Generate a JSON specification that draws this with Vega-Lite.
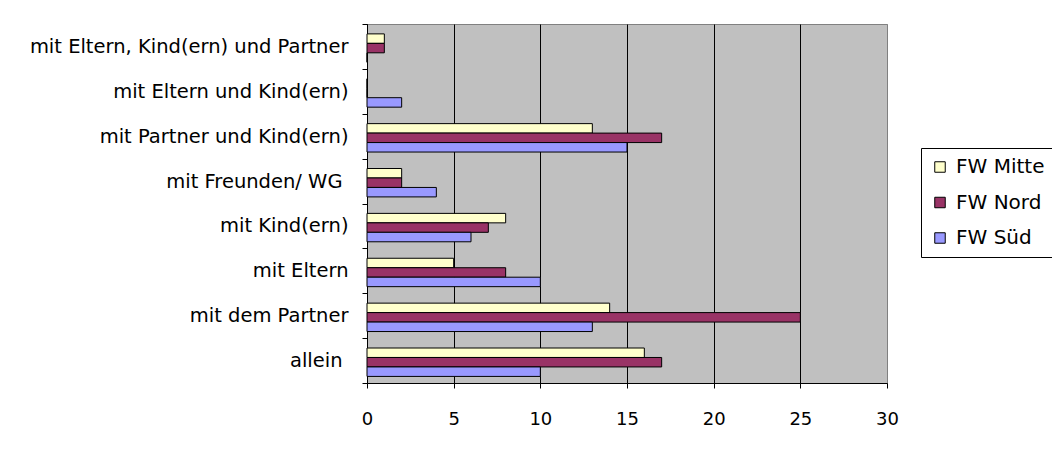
{
  "$schema": "https://vega.github.io/schema/vega-lite/v6.json",
  "width": 520,
  "height": 359,
  "autosize": {"type": "none"},
  "padding": {"left": 367, "top": 24, "right": 165, "bottom": 67},
  "background": "white",
  "config": {
    "font": "DejaVu Sans",
    "view": {"fill": "#C0C0C0", "stroke": "#808080", "strokeWidth": 1}
  },
  "data": {
    "values": [
      {"kategorie": "mit Eltern, Kind(ern) und Partner", "gruppe": "FW Mitte", "wert": 1},
      {"kategorie": "mit Eltern, Kind(ern) und Partner", "gruppe": "FW Nord", "wert": 1},
      {"kategorie": "mit Eltern, Kind(ern) und Partner", "gruppe": "FW Süd", "wert": 0},
      {"kategorie": "mit Eltern und Kind(ern)", "gruppe": "FW Mitte", "wert": 0},
      {"kategorie": "mit Eltern und Kind(ern)", "gruppe": "FW Nord", "wert": 0},
      {"kategorie": "mit Eltern und Kind(ern)", "gruppe": "FW Süd", "wert": 2},
      {"kategorie": "mit Partner und Kind(ern)", "gruppe": "FW Mitte", "wert": 13},
      {"kategorie": "mit Partner und Kind(ern)", "gruppe": "FW Nord", "wert": 17},
      {"kategorie": "mit Partner und Kind(ern)", "gruppe": "FW Süd", "wert": 15},
      {"kategorie": "mit Freunden/ WG", "gruppe": "FW Mitte", "wert": 2},
      {"kategorie": "mit Freunden/ WG", "gruppe": "FW Nord", "wert": 2},
      {"kategorie": "mit Freunden/ WG", "gruppe": "FW Süd", "wert": 4},
      {"kategorie": "mit Kind(ern)", "gruppe": "FW Mitte", "wert": 8},
      {"kategorie": "mit Kind(ern)", "gruppe": "FW Nord", "wert": 7},
      {"kategorie": "mit Kind(ern)", "gruppe": "FW Süd", "wert": 6},
      {"kategorie": "mit Eltern", "gruppe": "FW Mitte", "wert": 5},
      {"kategorie": "mit Eltern", "gruppe": "FW Nord", "wert": 8},
      {"kategorie": "mit Eltern", "gruppe": "FW Süd", "wert": 10},
      {"kategorie": "mit dem Partner", "gruppe": "FW Mitte", "wert": 14},
      {"kategorie": "mit dem Partner", "gruppe": "FW Nord", "wert": 25},
      {"kategorie": "mit dem Partner", "gruppe": "FW Süd", "wert": 13},
      {"kategorie": "allein", "gruppe": "FW Mitte", "wert": 16},
      {"kategorie": "allein", "gruppe": "FW Nord", "wert": 17},
      {"kategorie": "allein", "gruppe": "FW Süd", "wert": 10}
    ]
  },
  "mark": {"type": "bar", "stroke": "black", "strokeWidth": 1, "cornerRadius": 0},
  "encoding": {
    "y": {
      "field": "kategorie",
      "type": "nominal",
      "sort": [
        "mit Eltern, Kind(ern) und Partner",
        "mit Eltern und Kind(ern)",
        "mit Partner und Kind(ern)",
        "mit Freunden/ WG",
        "mit Kind(ern)",
        "mit Eltern",
        "mit dem Partner",
        "allein"
      ],
      "scale": {"paddingInner": 0, "paddingOuter": 0},
      "axis": {
        "title": null,
        "tickBand": "extent",
        "domainColor": "black",
        "tickColor": "black",
        "tickSize": 5,
        "labelFontSize": 19.5,
        "labelColor": "black",
        "labelPadding": {"condition": {"test": "datum.value == 'allein' || datum.value == 'mit Freunden/ WG'", "value": 20}, "value": 14},
        "labelLimit": 400,
        "grid": false
      }
    },
    "yOffset": {
      "field": "gruppe",
      "type": "nominal",
      "sort": ["FW Mitte", "FW Nord", "FW Süd"],
      "scale": {"paddingInner": 0, "paddingOuter": 0.87, "align": 0.6}
    },
    "x": {
      "field": "wert",
      "type": "quantitative",
      "scale": {"domain": [0, 30], "nice": false},
      "axis": {
        "title": null,
        "values": [0, 5, 10, 15, 20, 25, 30],
        "grid": true,
        "gridColor": {"condition": {"test": "datum.value == 30", "value": "#808080"}, "value": "black"},
        "gridOpacity": 1,
        "domainColor": "black",
        "tickColor": "black",
        "tickSize": 5,
        "labelFontSize": 18,
        "labelColor": "black",
        "labelPadding": 22,
        "labelFlush": false
      }
    },
    "color": {
      "field": "gruppe",
      "type": "nominal",
      "scale": {"domain": ["FW Mitte", "FW Nord", "FW Süd"], "range": ["#FFFFCC", "#993366", "#9999FF"]},
      "legend": {
        "title": null,
        "orient": "none",
        "legendX": 554,
        "legendY": 124,
        "symbolType": "square",
        "symbolSize": 110,
        "symbolStrokeColor": "black",
        "symbolStrokeWidth": 1,
        "symbolOpacity": 1,
        "labelFontSize": 20,
        "labelColor": "black",
        "labelOffset": 6,
        "rowPadding": 15.5,
        "padding": 9,
        "strokeColor": "black",
        "fillColor": "white"
      }
    }
  }
}
